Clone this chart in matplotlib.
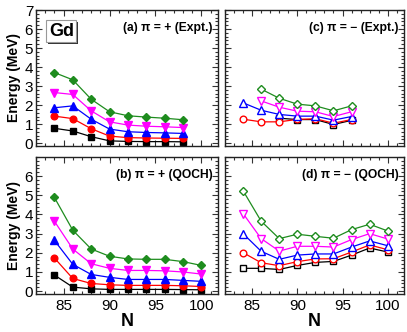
import matplotlib
matplotlib.use("Agg")
import matplotlib.pyplot as plt
from matplotlib.ticker import MultipleLocator
from matplotlib.patches import Rectangle

plt.rcParams['font.family'] = ['Liberation Sans', 'DejaVu Sans']

# ---- data ----
N_a = [84, 86, 88, 90, 92, 94, 96, 98]
a_black = [0.78, 0.64, 0.34, 0.12, 0.09, 0.08, 0.08, 0.07]
a_red = [1.42, 1.29, 0.76, 0.37, 0.29, 0.27, 0.26, 0.25]
a_blue = [1.86, 1.96, 1.26, 0.74, 0.60, 0.56, 0.54, 0.51]
a_mag = [2.66, 2.56, 1.70, 1.12, 0.95, 0.89, 0.86, 0.82]
a_green = [3.71, 3.33, 2.31, 1.65, 1.44, 1.37, 1.31, 1.23]

N_b = [84, 86, 88, 90, 92, 94, 96, 98, 100]
b_black = [0.84, 0.21, 0.12, 0.09, 0.09, 0.09, 0.09, 0.08, 0.07]
b_red = [1.73, 0.66, 0.40, 0.33, 0.30, 0.30, 0.30, 0.28, 0.24]
b_blue = [2.65, 1.40, 0.87, 0.72, 0.61, 0.61, 0.61, 0.56, 0.51]
b_mag = [3.65, 2.20, 1.43, 1.19, 1.08, 1.08, 1.06, 1.00, 0.89]
b_green = [4.89, 3.18, 2.20, 1.82, 1.68, 1.66, 1.66, 1.54, 1.34]

N_c_black = [88, 90, 92, 94, 96]
c_black = [1.31, 1.24, 1.24, 0.98, 1.20]
N_c_red = [84, 86, 88, 90, 92, 94, 96]
c_red = [1.26, 1.12, 1.12, 1.25, 1.28, 1.05, 1.24]
N_c_blue = [84, 86, 88, 90, 92, 94, 96]
c_blue = [2.12, 1.73, 1.51, 1.42, 1.42, 1.21, 1.40]
N_c_mag = [86, 88, 90, 92, 94, 96]
c_mag = [2.22, 1.89, 1.68, 1.65, 1.40, 1.65]
N_c_green = [86, 88, 90, 92, 94, 96]
c_green = [2.84, 2.36, 2.05, 1.96, 1.70, 1.96]

N_d = [84, 86, 88, 90, 92, 94, 96, 98, 100]
d_black = [1.19, 1.19, 1.13, 1.34, 1.50, 1.55, 1.88, 2.25, 2.04]
d_red = [2.01, 1.48, 1.33, 1.54, 1.68, 1.69, 2.04, 2.41, 2.16]
d_blue = [3.00, 2.08, 1.66, 1.88, 1.94, 1.94, 2.30, 2.62, 2.37]
d_mag = [4.05, 2.74, 2.09, 2.34, 2.34, 2.30, 2.69, 3.00, 2.72]
d_green = [5.24, 3.65, 2.74, 2.97, 2.86, 2.76, 3.21, 3.49, 3.14]

colors = ['black', '#ff0000', '#0000ff', '#ff00ff', '#1e8c1e']
markers = ['s', 'o', '^', 'v', 'D']
msizes = [4.3, 4.8, 5.2, 5.2, 4.3]

fig = plt.figure(figsize=(4.07, 3.32), dpi=100)
W, H = 407, 332
def ax_at(l, t, r, b):
    return fig.add_axes([l / W, 1 - b / H, (r - l) / W, (b - t) / H])

ax_a = ax_at(36, 10, 218, 146)
ax_c = ax_at(225, 10, 404, 146)
ax_b = ax_at(36, 157, 218, 294)
ax_d = ax_at(225, 157, 404, 294)

def draw(ax, series, filled):
    for (x, y), c, m, ms in zip(series, colors, markers, msizes):
        ax.plot(x, y, color=c, lw=0.9, marker=m, ms=ms,
                mfc=c if filled else 'white', mec=c, mew=1.0)

draw(ax_a, [(N_a, a_black), (N_a, a_red), (N_a, a_blue), (N_a, a_mag), (N_a, a_green)], True)
draw(ax_b, [(N_b, b_black), (N_b, b_red), (N_b, b_blue), (N_b, b_mag), (N_b, b_green)], True)
draw(ax_c, [(N_c_black, c_black), (N_c_red, c_red), (N_c_blue, c_blue),
            (N_c_mag, c_mag), (N_c_green, c_green)], False)
draw(ax_d, [(N_d, d_black), (N_d, d_red), (N_d, d_blue), (N_d, d_mag), (N_d, d_green)], False)

for ax in (ax_a, ax_b, ax_c, ax_d):
    ax.set_xlim(82, 101.8)
    ax.set_ylim(-0.15, 7)
    ax.xaxis.set_major_locator(MultipleLocator(5))
    ax.xaxis.set_minor_locator(MultipleLocator(1))
    ax.yaxis.set_major_locator(MultipleLocator(1))
    ax.yaxis.set_minor_locator(MultipleLocator(0.2))
    ax.tick_params(which='both', direction='in', top=True, right=True,
                   labelsize=11, width=0.8, color='#333333')
    ax.tick_params(which='major', length=4)
    ax.tick_params(which='minor', length=2)
    for s in ax.spines.values():
        s.set_linewidth(1.0)
        s.set_color('#222222')

ax_a.tick_params(labelbottom=False)
ax_c.tick_params(labelbottom=False, labelleft=False)
ax_d.tick_params(labelleft=False)
ax_b.set_yticks([0, 1, 2, 3, 4, 5, 6])
ax_b.yaxis.set_minor_locator(MultipleLocator(0.2))
ax_a.set_yticks([0, 1, 2, 3, 4, 5, 6, 7])
ax_a.tick_params(axis='y', pad=2)
ax_b.tick_params(axis='y', pad=2)

lab_kw = dict(fontsize=8.7, fontweight='bold', ha='right', va='center')
ax_a.text(0.97, 0.87, '(a) π = + (Expt.)', transform=ax_a.transAxes, **lab_kw)
ax_b.text(0.97, 0.87, '(b) π = + (QOCH)', transform=ax_b.transAxes, **lab_kw)
ax_c.text(0.97, 0.87, '(c) π = − (Expt.)', transform=ax_c.transAxes, **lab_kw)
ax_d.text(0.97, 0.87, '(d) π = − (QOCH)', transform=ax_d.transAxes, **lab_kw)

# "Gd" label box with drop shadow
ax_a.add_patch(Rectangle((0.068, 0.748), 0.165, 0.165, transform=ax_a.transAxes,
                         fc='#333333', ec='none', zorder=5))
ax_a.add_patch(Rectangle((0.057, 0.763), 0.165, 0.165, transform=ax_a.transAxes,
                         fc='white', ec='#999999', lw=0.8, zorder=6))
ax_a.text(0.139, 0.845, 'Gd', transform=ax_a.transAxes, fontsize=13, fontweight='bold',
          ha='center', va='center', zorder=7)

ax_a.set_ylabel('Energy (MeV)', fontsize=10, fontweight='bold', labelpad=3)
ax_b.set_ylabel('Energy (MeV)', fontsize=10, fontweight='bold', labelpad=3)
ax_b.set_xlabel('N', fontsize=13, fontweight='bold', labelpad=0)
ax_d.set_xlabel('N', fontsize=13, fontweight='bold', labelpad=0)

fig.savefig('out.png', dpi=100)
